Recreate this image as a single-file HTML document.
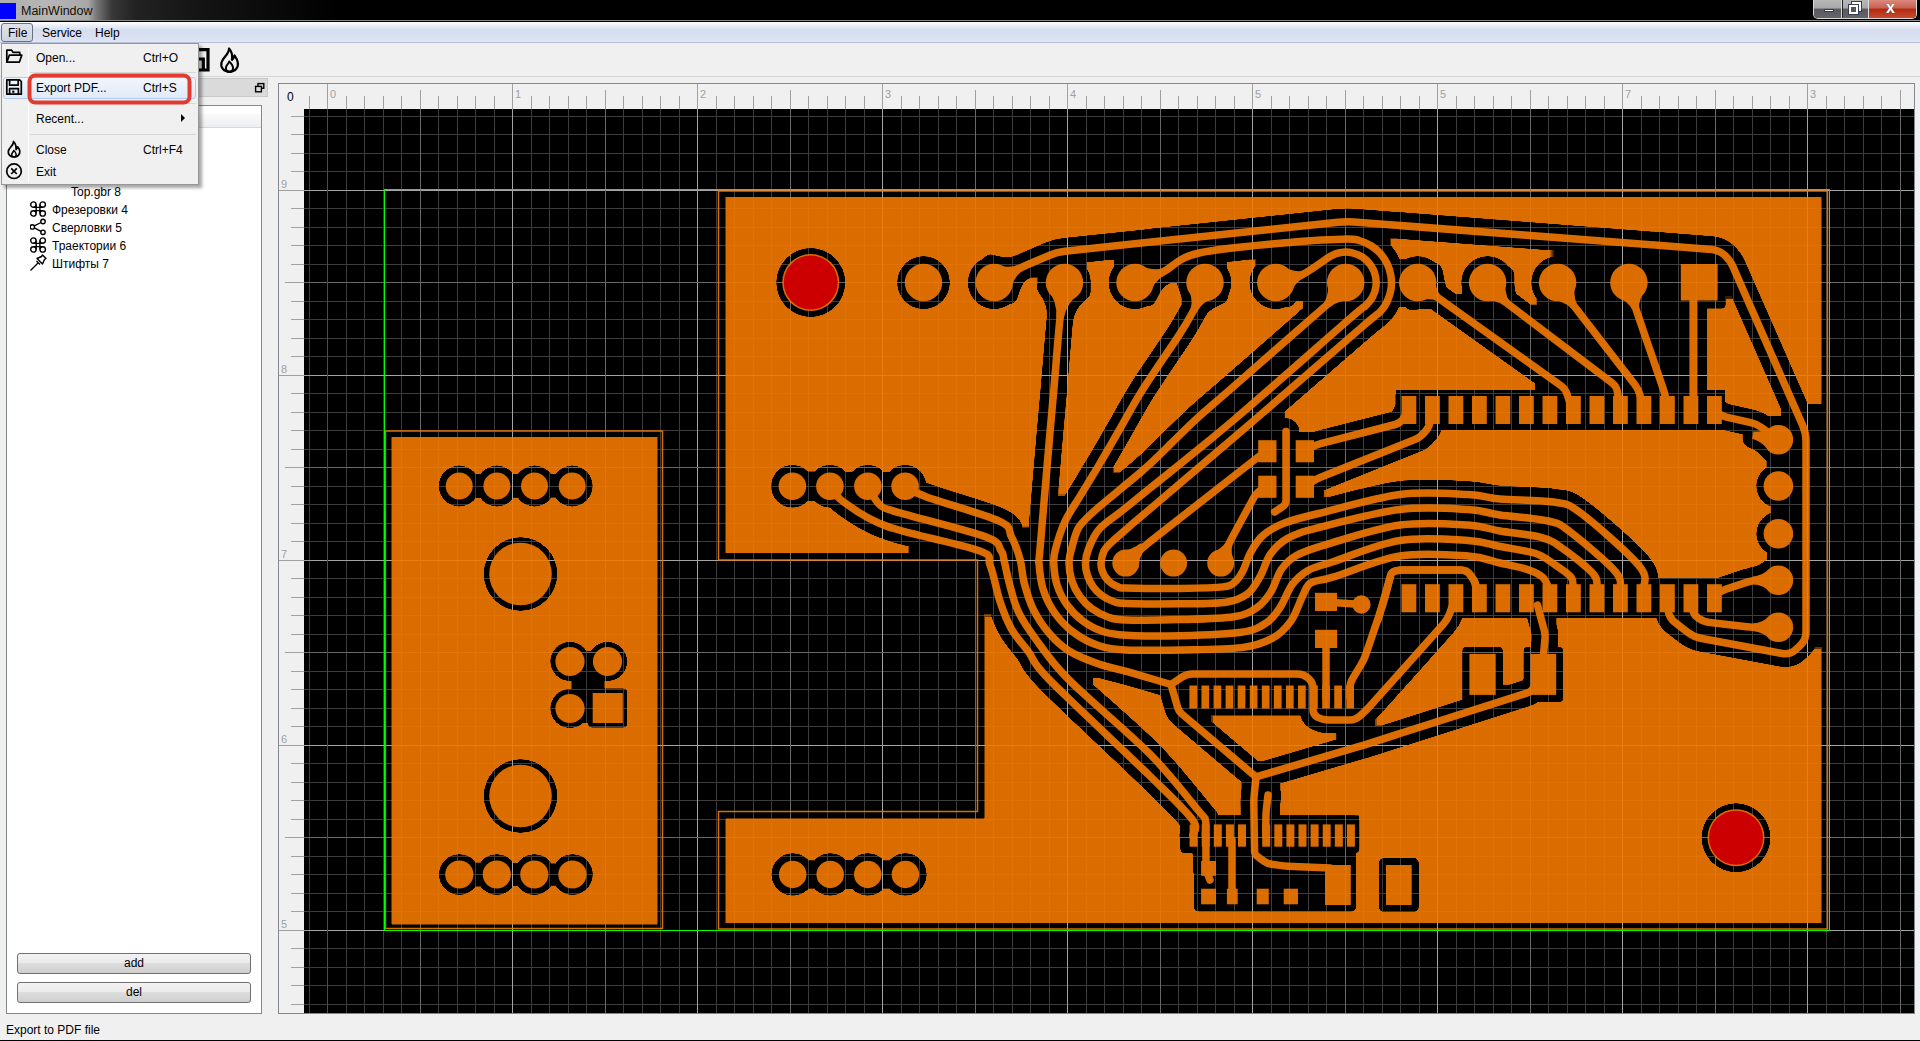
<!DOCTYPE html>
<html><head><meta charset="utf-8"><style>
*{margin:0;padding:0;box-sizing:border-box}
html,body{width:1920px;height:1041px;overflow:hidden;background:#f0f0f0;font-family:"Liberation Sans",sans-serif;font-size:12px;color:#000;position:relative}
.a{position:absolute}
#title{left:0;top:0;width:1920px;height:21px;background:#000;overflow:hidden}
#glow{left:0;top:0;width:360px;height:20px;background:linear-gradient(to right,#aeaeae 0px,#b6b6b6 50px,#a8a8a8 88px,#707070 98px,#383838 112px,#222 135px,#141414 200px,#000 340px)}
#tline{left:0;top:20px;width:1920px;height:2px;background:linear-gradient(#8c8c8c 0px,#8c8c8c 0.7px,#000 0.7px,#000 2px)}
#menubar{left:0;top:22px;width:1920px;height:21px;background:linear-gradient(#ffffff 0px,#eef1f9 3px,#dfe5f4 6px,#d6ddef 8px,#dce2f2 18px,#e2e7f4 20px);border-bottom:1px solid #b9c1d8}
.mi{top:0;height:20px;line-height:20px;font-size:12px}
#toolbar{left:0;top:43px;width:1920px;height:34px;background:#f0f0f0;border-bottom:1px solid #d5d5d5}
#dock{left:0;top:77px;width:270px;height:937px;background:#f0f0f0}
#docktitle{left:1px;top:78px;width:267px;height:19px;background:#dadada;border:1px solid #c8c8c8}
#tree{left:6px;top:105px;width:256px;height:909px;background:#fff;border:1px solid #828790}
#hdr{left:7px;top:114px;width:254px;height:14px;background:linear-gradient(#fafafa,#eceef0);border-bottom:1px solid #d8d8d8}
.ti{height:18px;line-height:18px;font-size:12px;white-space:nowrap}
.btn{left:17px;width:234px;height:21px;border:1px solid #707070;border-radius:3px;background:linear-gradient(#f2f2f2 0%,#ebebeb 45%,#dddddd 50%,#cfcfcf 100%);text-align:center;line-height:19px;font-size:12px}
#status{left:6px;top:1022px;font-size:12px;line-height:16px}
#bottomline{left:0;top:1040px;width:1920px;height:1px;background:#000}
#menu{left:1px;top:43px;width:198px;height:142px;background:#f0f0f0;border:1px solid #979797;box-shadow:3px 3px 3px rgba(0,0,0,0.35)}
.mt{left:34px;font-size:12px;line-height:16px}
.sc{left:141px;font-size:12px;line-height:16px}
</style></head><body>
<div id="title" class="a">
  <div id="glow" class="a"></div>
  <div class="a" style="left:0;top:3px;width:16px;height:16px;background:#0000ff"></div>
  <div class="a" style="left:21px;top:4px;font-size:12.5px;line-height:15px;color:#141008">MainWindow</div>
  <div class="a" style="left:1813px;top:0;width:104px;height:19px;border:1px solid #d8d8d8;border-top:none;border-radius:0 0 5px 5px;background:#222"></div>
  <div class="a" style="left:1814px;top:0;width:28px;height:18px;background:linear-gradient(#b8b8b8 0%,#a8a8a8 45%,#5a5a60 50%,#62646c 100%);border-radius:0 0 0 4px;border-right:1px solid #ddd"></div>
  <div class="a" style="left:1824px;top:9px;width:10px;height:3px;background:#fff;border:1px solid #3a3a50"></div>
  <div class="a" style="left:1843px;top:0;width:26px;height:18px;background:linear-gradient(#b8b8b8 0%,#a8a8a8 45%,#5a5a60 50%,#62646c 100%);border-right:1px solid #ddd"></div>
  <div class="a" style="left:1852px;top:2px;width:9px;height:9px;border:2px solid #fff;outline:1px solid #3a3a50"></div>
  <div class="a" style="left:1849px;top:5px;width:9px;height:9px;border:2px solid #fff;background:#555;outline:1px solid #3a3a50"></div>
  <div class="a" style="left:1869px;top:0;width:47px;height:18px;background:linear-gradient(#dc8a7c 0%,#c86050 45%,#b02a10 50%,#c84a30 100%);border-radius:0 0 4px 0"></div>
  <div class="a" style="left:1886px;top:-1px;font-size:16px;font-weight:bold;color:#fff;line-height:18px;text-shadow:0 0 1px #334">x</div>
</div>
<div id="tline" class="a"></div>
<div id="menubar" class="a">
  <div class="a" style="left:1px;top:1px;width:32px;height:19px;border:1px solid #6a7080;border-radius:3px;background:linear-gradient(#dfe3ec,#ccd3e2)"></div>
  <div class="a mi" style="left:8px;top:1px">File</div>
  <div class="a mi" style="left:42px;top:1px">Service</div>
  <div class="a mi" style="left:95px;top:1px">Help</div>
</div>
<div id="toolbar" class="a">
  <svg class="a" style="left:190px;top:4px" width="22" height="30" viewBox="190 47 22 30"><path d="M190 49.7H208V70H190M190 59H203.3V70" fill="none" stroke="#000" stroke-width="3.2"/></svg>
  <svg class="a" style="left:218px;top:3px" width="24" height="28" viewBox="0 0 24 28"><path d="M11 2.5C11.5 8 5 11 3.5 16.5C2.2 21.5 6 25.8 11.5 25.8C17 25.8 20.8 21.5 19.8 16.5C19.2 13 17.5 11 16.5 9.5C16 11.5 15.2 12.8 14 13.8C14.5 9.5 13.5 5 11 2.5Z" fill="none" stroke="#000" stroke-width="2.2" stroke-linejoin="round"/><path d="M11.5 25.8C8.8 25.8 7.5 23.5 8 21.2C8.5 19 10.5 18 11.2 15.5C13 17.2 15 19.5 15 22C15 24.2 13.5 25.8 11.5 25.8Z" fill="none" stroke="#000" stroke-width="2" stroke-linejoin="round"/></svg>
</div>
<div id="dock" class="a"></div>
<div id="docktitle" class="a"></div>
<svg class="a" style="left:254px;top:82px" width="12" height="12" viewBox="0 0 12 12"><rect x="4" y="1.6" width="5.8" height="4.6" fill="none" stroke="#000" stroke-width="1.4"/><rect x="1.6" y="4.4" width="5.8" height="5.4" fill="#dadada" stroke="#000" stroke-width="1.4"/></svg>
<div id="tree" class="a"></div>
<div id="hdr" class="a"></div>
<div class="a ti" style="left:71px;top:183px">Top.gbr 8</div>
<div class="a ti" style="left:52px;top:201px">Фрезеровки 4</div>
<div class="a ti" style="left:52px;top:219px">Сверловки 5</div>
<div class="a ti" style="left:52px;top:237px">Траектории 6</div>
<div class="a ti" style="left:52px;top:255px">Штифты 7</div>
<svg class="a" style="left:30px;top:200px" width="18" height="74" viewBox="0 0 18 74">
 <g fill="none" stroke="#000" stroke-width="1.4">
  <g transform="translate(0,1)"><circle cx="3.4" cy="3.6" r="2.7"/><circle cx="12.7" cy="3.6" r="2.7"/><circle cx="3.4" cy="12.4" r="2.7"/><circle cx="12.7" cy="12.4" r="2.7"/><path d="M6.2 3.6V12.4M9.9 3.6V12.4M3.4 6.4H12.7M3.4 9.6H12.7"/></g>
  <g transform="translate(0,37)"><circle cx="3.4" cy="3.6" r="2.7"/><circle cx="12.7" cy="3.6" r="2.7"/><circle cx="3.4" cy="12.4" r="2.7"/><circle cx="12.7" cy="12.4" r="2.7"/><path d="M6.2 3.6V12.4M9.9 3.6V12.4M3.4 6.4H12.7M3.4 9.6H12.7"/></g>
  <circle cx="13" cy="21.5" r="2.2"/><circle cx="2.3" cy="26.9" r="2.2"/><circle cx="13" cy="32.3" r="2.2"/><path d="M4.3 25.9L11 22.5M4.3 27.9L11 31.3"/>
  <path d="M0.5 70.5L8 63M7 58.5L11.5 56.5L12.5 55L16 58.5L14.5 59.5L12.5 64L7 58.5ZM6.5 61L10 64.5" stroke-linejoin="round"/>
 </g>
</svg>
<div class="a btn" style="top:953px">add</div>
<div class="a btn" style="top:982px">del</div>
<div id="status" class="a">Export to PDF file</div>
<div id="bottomline" class="a"></div>
<svg width="1920" height="1041" style="position:absolute;left:0;top:0"><rect x="279" y="84" width="1635" height="929" fill="#f0f0f0"/><rect x="278.5" y="83.5" width="1636" height="930" fill="none" stroke="#828790"/><path d="M309.5 96V109M327.5 84V109M346.5 96V109M364.5 96V109M383.5 96V109M401.5 96V109M420.5 90V109M438.5 96V109M457.5 96V109M475.5 96V109M494.5 96V109M512.5 84V109M531.5 96V109M549.5 96V109M568.5 96V109M586.5 96V109M605.5 90V109M623.5 96V109M642.5 96V109M660.5 96V109M679.5 96V109M697.5 84V109M716.5 96V109M734.5 96V109M753.5 96V109M771.5 96V109M790.5 90V109M808.5 96V109M827.5 96V109M845.5 96V109M864.5 96V109M882.5 84V109M901.5 96V109M919.5 96V109M938.5 96V109M956.5 96V109M975.5 90V109M993.5 96V109M1012.5 96V109M1030.5 96V109M1049.5 96V109M1067.5 84V109M1086.5 96V109M1104.5 96V109M1123.5 96V109M1141.5 96V109M1160.5 90V109M1178.5 96V109M1197.5 96V109M1215.5 96V109M1234.5 96V109M1252.5 84V109M1271.5 96V109M1289.5 96V109M1308.5 96V109M1326.5 96V109M1345.5 90V109M1363.5 96V109M1382.5 96V109M1400.5 96V109M1419.5 96V109M1437.5 84V109M1456.5 96V109M1474.5 96V109M1493.5 96V109M1511.5 96V109M1530.5 90V109M1548.5 96V109M1567.5 96V109M1585.5 96V109M1604.5 96V109M1622.5 84V109M1641.5 96V109M1659.5 96V109M1678.5 96V109M1696.5 96V109M1715.5 90V109M1733.5 96V109M1752.5 96V109M1770.5 96V109M1789.5 96V109M1807.5 84V109M1826.5 96V109M1844.5 96V109M1863.5 96V109M1881.5 96V109M1900.5 90V109M291 116.5H304M291 134.5H304M291 153.5H304M291 171.5H304M279 190.5H304M291 208.5H304M291 227.5H304M291 245.5H304M291 264.5H304M285 282.5H304M291 301.5H304M291 319.5H304M291 338.5H304M291 356.5H304M279 375.5H304M291 393.5H304M291 412.5H304M291 430.5H304M291 449.5H304M285 467.5H304M291 486.5H304M291 504.5H304M291 523.5H304M291 541.5H304M279 560.5H304M291 578.5H304M291 597.5H304M291 615.5H304M291 634.5H304M285 652.5H304M291 671.5H304M291 689.5H304M291 708.5H304M291 726.5H304M279 745.5H304M291 763.5H304M291 782.5H304M291 800.5H304M291 819.5H304M285 837.5H304M291 856.5H304M291 874.5H304M291 893.5H304M291 911.5H304M279 930.5H304M291 948.5H304M291 967.5H304M291 985.5H304M291 1004.5H304" stroke="#a0a0a0" stroke-width="1" fill="none" shape-rendering="crispEdges"/><text x="330" y="98" font-size="11" fill="#a0a0a0" font-family='"Liberation Sans", sans-serif'>0</text><text x="515" y="98" font-size="11" fill="#a0a0a0" font-family='"Liberation Sans", sans-serif'>1</text><text x="700" y="98" font-size="11" fill="#a0a0a0" font-family='"Liberation Sans", sans-serif'>2</text><text x="885" y="98" font-size="11" fill="#a0a0a0" font-family='"Liberation Sans", sans-serif'>3</text><text x="1070" y="98" font-size="11" fill="#a0a0a0" font-family='"Liberation Sans", sans-serif'>4</text><text x="1255" y="98" font-size="11" fill="#a0a0a0" font-family='"Liberation Sans", sans-serif'>5</text><text x="1440" y="98" font-size="11" fill="#a0a0a0" font-family='"Liberation Sans", sans-serif'>5</text><text x="1625" y="98" font-size="11" fill="#a0a0a0" font-family='"Liberation Sans", sans-serif'>7</text><text x="1810" y="98" font-size="11" fill="#a0a0a0" font-family='"Liberation Sans", sans-serif'>3</text><text x="281" y="188" font-size="11" fill="#a0a0a0" font-family='"Liberation Sans", sans-serif'>9</text><text x="281" y="373" font-size="11" fill="#a0a0a0" font-family='"Liberation Sans", sans-serif'>8</text><text x="281" y="558" font-size="11" fill="#a0a0a0" font-family='"Liberation Sans", sans-serif'>7</text><text x="281" y="743" font-size="11" fill="#a0a0a0" font-family='"Liberation Sans", sans-serif'>6</text><text x="281" y="928" font-size="11" fill="#a0a0a0" font-family='"Liberation Sans", sans-serif'>5</text><text x="287" y="101" font-size="12" fill="#000" font-family='"Liberation Sans", sans-serif'>0</text><svg x="304" y="109" width="1610" height="904" viewBox="304 109 1610 904"><rect x="304" y="109" width="1610" height="904" fill="#000"/><path d="M309.5 109V1013M346.5 109V1013M364.5 109V1013M383.5 109V1013M401.5 109V1013M438.5 109V1013M457.5 109V1013M475.5 109V1013M494.5 109V1013M531.5 109V1013M549.5 109V1013M568.5 109V1013M586.5 109V1013M623.5 109V1013M642.5 109V1013M660.5 109V1013M679.5 109V1013M716.5 109V1013M734.5 109V1013M753.5 109V1013M771.5 109V1013M808.5 109V1013M827.5 109V1013M845.5 109V1013M864.5 109V1013M901.5 109V1013M919.5 109V1013M938.5 109V1013M956.5 109V1013M993.5 109V1013M1012.5 109V1013M1030.5 109V1013M1049.5 109V1013M1086.5 109V1013M1104.5 109V1013M1123.5 109V1013M1141.5 109V1013M1178.5 109V1013M1197.5 109V1013M1215.5 109V1013M1234.5 109V1013M1271.5 109V1013M1289.5 109V1013M1308.5 109V1013M1326.5 109V1013M1363.5 109V1013M1382.5 109V1013M1400.5 109V1013M1419.5 109V1013M1456.5 109V1013M1474.5 109V1013M1493.5 109V1013M1511.5 109V1013M1548.5 109V1013M1567.5 109V1013M1585.5 109V1013M1604.5 109V1013M1641.5 109V1013M1659.5 109V1013M1678.5 109V1013M1696.5 109V1013M1733.5 109V1013M1752.5 109V1013M1770.5 109V1013M1789.5 109V1013M1826.5 109V1013M1844.5 109V1013M1863.5 109V1013M1881.5 109V1013M304 116.5H1914M304 134.5H1914M304 153.5H1914M304 171.5H1914M304 208.5H1914M304 227.5H1914M304 245.5H1914M304 264.5H1914M304 301.5H1914M304 319.5H1914M304 338.5H1914M304 356.5H1914M304 393.5H1914M304 412.5H1914M304 430.5H1914M304 449.5H1914M304 486.5H1914M304 504.5H1914M304 523.5H1914M304 541.5H1914M304 578.5H1914M304 597.5H1914M304 615.5H1914M304 634.5H1914M304 671.5H1914M304 689.5H1914M304 708.5H1914M304 726.5H1914M304 763.5H1914M304 782.5H1914M304 800.5H1914M304 819.5H1914M304 856.5H1914M304 874.5H1914M304 893.5H1914M304 911.5H1914M304 948.5H1914M304 967.5H1914M304 985.5H1914M304 1004.5H1914" stroke="#3c3c3c" stroke-width="1" fill="none" shape-rendering="crispEdges"/><path d="M327.5 109V1013M512.5 109V1013M697.5 109V1013M882.5 109V1013M1067.5 109V1013M1252.5 109V1013M1437.5 109V1013M1622.5 109V1013M1807.5 109V1013M304 190.5H1914M304 375.5H1914M304 560.5H1914M304 745.5H1914M304 930.5H1914" stroke="#a4a4a4" stroke-width="1" fill="none" shape-rendering="crispEdges"/><path d="M420.5 109V1013M605.5 109V1013M790.5 109V1013M975.5 109V1013M1160.5 109V1013M1345.5 109V1013M1530.5 109V1013M1715.5 109V1013M1900.5 109V1013M304 282.5H1914M304 467.5H1914M304 652.5H1914M304 837.5H1914" stroke="#686868" stroke-width="1" fill="none" shape-rendering="crispEdges"/><defs><filter id="opn" x="304" y="109" width="1610" height="904" filterUnits="userSpaceOnUse"><feMorphology operator="erode" radius="3.0"/><feMorphology operator="dilate" radius="3.0"/><feComponentTransfer><feFuncA type="linear" slope="2.5" intercept="-0.75"/></feComponentTransfer></filter><filter id="opn2" x="304" y="109" width="1610" height="904" filterUnits="userSpaceOnUse"><feMorphology operator="erode" radius="2"/><feMorphology operator="dilate" radius="2"/><feComponentTransfer><feFuncA type="linear" slope="2.5" intercept="-0.75"/></feComponentTransfer></filter><mask id="iso" maskUnits="userSpaceOnUse" x="304" y="109" width="1610" height="904"><rect x="304" y="109" width="1610" height="904" fill="#fff"/><path d="M994.2 282.6L1013.0 271.9Q1020.0 268.0 1027.3 264.8L1049.7 255.2Q1057.0 252.0 1065.0 251.2L1338.0 222.2Q1346.0 221.4 1354.0 222.0L1711.6 249.4Q1719.0 250.0 1724.5 255.0L1724.5 255.0Q1730.0 260.0 1733.0 266.8L1802.8 425.7Q1806.0 433.0 1806.0 441.0L1806.0 632.0Q1806.0 640.0 1800.2 645.5L1795.8 649.5Q1790.0 655.0 1782.1 653.5L1701.9 638.5Q1694.0 637.0 1687.6 632.2L1675.4 622.8Q1669.0 618.0 1668.1 610.0L1667.0 600.0" fill="none" stroke="#000" stroke-width="26.5" stroke-linecap="round" stroke-linejoin="round"/><path d="M1135.0 283.0C1139.7 281.2 1152.3 277.0 1163.0 272.0C1173.7 267.0 1176.2 258.1 1199.0 253.0C1221.8 247.9 1275.4 243.8 1300.0 241.5C1324.6 239.2 1336.6 239.3 1346.5 239.1C1356.3 239.0 1355.0 239.5 1359.1 240.5C1363.1 241.6 1367.2 243.3 1370.7 245.5C1374.3 247.7 1377.7 250.5 1380.5 253.6C1383.2 256.8 1385.7 260.4 1387.4 264.2C1389.2 268.0 1390.5 272.2 1391.0 276.4C1391.6 280.5 1391.6 284.9 1391.0 289.0C1390.4 293.2 1389.1 297.4 1387.3 301.2C1385.6 304.9 1384.6 307.4 1380.3 311.7C1376.1 316.0 1383.0 309.0 1362.0 327.0C1341.0 345.0 1289.8 389.7 1254.5 420.0C1219.2 450.3 1170.7 491.4 1150.0 509.0C1129.3 526.6 1136.8 520.0 1130.3 525.7C1123.8 531.4 1115.1 538.8 1110.7 543.0C1106.3 547.2 1105.6 547.7 1104.0 551.0C1102.4 554.3 1101.3 559.7 1101.0 563.0C1100.7 566.3 1101.4 568.3 1102.2 570.7C1103.0 573.2 1104.3 575.6 1105.8 577.7C1107.3 579.8 1109.2 581.7 1111.3 583.2C1113.4 584.7 1115.8 586.0 1118.3 586.8C1120.7 587.6 1115.7 587.7 1126.0 588.0C1136.3 588.3 1163.8 588.6 1180.0 588.4C1196.2 588.2 1213.8 588.0 1223.0 586.9C1232.2 585.8 1232.0 584.2 1235.3 581.5C1238.6 578.8 1240.4 575.6 1243.0 570.7C1245.6 565.8 1247.4 558.2 1250.7 552.3C1254.0 546.4 1257.4 540.3 1263.0 535.4C1268.6 530.5 1275.3 526.6 1284.5 523.0C1293.7 519.4 1299.2 518.2 1318.4 513.5C1337.7 508.8 1375.1 497.7 1400.0 494.5C1424.9 491.3 1451.3 493.8 1468.0 494.5C1484.7 495.2 1485.7 497.8 1500.0 499.0C1514.3 500.2 1540.3 499.7 1553.8 502.0C1567.2 504.3 1566.3 502.2 1580.7 513.0C1595.1 523.8 1629.6 554.0 1639.9 566.8C1650.2 579.6 1642.1 586.1 1642.5 590.0" fill="none" stroke="#000" stroke-width="26.5" stroke-linecap="round" stroke-linejoin="round"/><path d="M1275.8 282.6C1280.2 281.2 1293.4 278.9 1302.5 274.5C1311.6 270.1 1324.0 259.9 1330.5 256.2C1336.9 252.5 1337.4 253.0 1341.1 252.5C1344.7 251.9 1348.7 252.0 1352.3 252.8C1355.9 253.6 1359.6 255.2 1362.6 257.2C1365.7 259.3 1368.6 262.1 1370.7 265.1C1372.8 268.1 1374.5 271.8 1375.3 275.4C1376.2 278.9 1376.4 282.9 1375.9 286.6C1375.5 290.2 1374.2 294.0 1372.4 297.3C1370.7 300.5 1369.0 302.4 1365.3 306.0C1361.6 309.5 1371.9 299.5 1350.0 318.5C1328.1 337.5 1267.0 391.7 1233.7 420.0C1200.4 448.3 1168.6 473.1 1150.0 488.2C1131.4 503.3 1130.7 503.9 1122.2 510.7C1113.7 517.5 1104.8 522.7 1099.2 529.1C1093.6 535.5 1090.8 543.4 1088.5 549.0C1086.2 554.6 1085.7 558.6 1085.5 563.0C1085.3 567.4 1086.2 571.5 1087.5 575.5C1088.8 579.5 1090.8 583.4 1093.2 586.8C1095.7 590.2 1098.8 593.3 1102.2 595.8C1105.6 598.2 1109.5 600.2 1113.5 601.5C1117.5 602.8 1114.9 603.1 1126.0 603.5C1137.1 603.9 1163.3 604.0 1180.0 603.8C1196.7 603.6 1214.8 603.9 1226.1 602.2C1237.4 600.5 1242.0 598.0 1247.6 593.8C1253.2 589.6 1256.1 583.6 1259.9 576.9C1263.8 570.2 1266.1 560.2 1270.7 553.8C1275.3 547.4 1279.6 542.8 1287.6 538.4C1295.5 534.0 1299.7 532.5 1318.4 527.7C1337.1 522.9 1375.1 512.5 1400.0 509.5C1424.9 506.5 1451.3 508.6 1468.0 509.5C1484.7 510.4 1486.6 513.1 1500.0 515.0C1513.4 516.9 1536.7 518.2 1548.4 521.0C1560.1 523.8 1558.8 523.3 1570.0 531.8C1581.2 540.3 1607.4 562.3 1615.7 572.0C1624.0 581.7 1619.0 587.0 1619.7 590.0" fill="none" stroke="#000" stroke-width="26.5" stroke-linecap="round" stroke-linejoin="round"/><path d="M1327.0 304.8C1310.8 319.0 1251.5 370.8 1229.6 390.0C1207.6 409.2 1208.6 407.7 1195.3 420.0C1182.0 432.3 1162.2 452.7 1150.0 464.0C1137.8 475.3 1131.8 479.4 1122.2 487.6C1112.6 495.8 1099.5 506.3 1092.2 513.0C1084.9 519.7 1081.9 522.0 1078.4 528.0C1075.0 534.0 1073.1 543.2 1071.5 549.0C1069.9 554.8 1069.0 557.7 1069.0 563.0C1069.0 568.3 1070.0 575.0 1071.8 580.6C1073.6 586.2 1076.4 591.8 1079.9 596.5C1083.3 601.3 1087.7 605.7 1092.5 609.1C1097.2 612.6 1102.8 615.4 1108.4 617.2C1114.0 619.0 1114.1 619.6 1126.0 620.0C1137.9 620.4 1162.0 620.1 1180.0 619.6C1198.0 619.1 1221.0 618.8 1233.8 616.8C1246.6 614.8 1250.8 611.7 1256.9 607.6C1263.1 603.5 1266.6 598.6 1270.7 592.2C1274.8 585.8 1277.2 575.4 1281.5 569.2C1285.8 563.1 1289.4 559.4 1296.8 555.3C1304.2 551.2 1308.8 549.6 1326.0 544.6C1343.2 539.6 1376.3 528.3 1400.0 525.0C1423.7 521.7 1451.3 524.0 1468.0 525.0C1484.7 526.0 1488.0 529.0 1500.0 531.0C1512.0 533.0 1530.0 534.4 1540.3 537.2C1550.6 540.0 1553.0 541.7 1561.9 548.0C1570.9 554.3 1588.3 567.8 1594.0 574.8C1599.7 581.8 1595.9 587.5 1596.3 590.0" fill="none" stroke="#000" stroke-width="26.5" stroke-linecap="round" stroke-linejoin="round"/><path d="M1194.4 309.0C1192.0 313.1 1188.7 320.1 1180.0 333.6C1171.3 347.1 1152.5 373.9 1142.4 390.0C1132.3 406.1 1126.5 417.6 1119.3 430.0C1112.1 442.4 1105.8 453.5 1099.2 464.6C1092.6 475.8 1085.4 487.3 1079.6 496.9C1073.8 506.5 1068.6 513.5 1064.6 522.2C1060.6 530.9 1057.3 542.2 1055.5 549.0C1053.7 555.8 1053.4 556.9 1053.7 563.0C1054.0 569.1 1054.9 578.3 1057.2 585.3C1059.5 592.4 1063.1 599.5 1067.5 605.5C1071.9 611.5 1077.5 617.1 1083.5 621.5C1089.5 625.9 1096.6 629.5 1103.7 631.8C1110.7 634.1 1113.3 634.6 1126.0 635.3C1138.7 636.0 1160.8 636.2 1180.0 635.7C1199.2 635.2 1227.2 634.3 1241.5 632.2C1255.8 630.1 1259.7 627.1 1266.1 623.0C1272.5 618.9 1275.7 614.0 1280.0 607.6C1284.3 601.2 1287.6 590.8 1292.2 584.6C1296.8 578.5 1300.7 574.6 1307.6 570.7C1314.5 566.9 1318.3 566.5 1333.7 561.5C1349.1 556.5 1377.6 544.0 1400.0 540.5C1422.4 537.0 1451.3 539.5 1468.0 540.5C1484.7 541.5 1488.8 544.4 1500.0 546.5C1511.2 548.6 1526.0 550.4 1535.0 553.3C1544.0 556.2 1547.8 560.0 1553.8 564.0C1559.8 568.0 1568.2 573.2 1571.3 577.5C1574.4 581.8 1572.4 587.9 1572.6 590.0" fill="none" stroke="#000" stroke-width="26.5" stroke-linecap="round" stroke-linejoin="round"/><path d="M1064.5 283.0C1063.8 288.8 1061.8 300.2 1060.0 318.0C1058.2 335.8 1055.4 371.3 1053.8 390.0C1052.2 408.7 1052.5 403.5 1050.2 430.0C1047.9 456.5 1041.9 526.8 1040.0 549.0C1038.1 571.2 1038.5 556.2 1039.0 563.0C1039.5 569.8 1040.5 581.4 1043.3 589.9C1046.0 598.4 1050.3 606.9 1055.6 614.1C1060.9 621.4 1067.6 628.1 1074.9 633.4C1082.1 638.7 1090.6 643.0 1099.1 645.7C1107.6 648.5 1112.5 649.3 1126.0 650.0C1139.5 650.7 1160.8 650.3 1180.0 649.9C1199.2 649.5 1226.1 649.5 1241.5 647.6C1256.9 645.7 1264.0 642.8 1272.2 638.4C1280.4 634.0 1285.6 628.6 1290.7 621.4C1295.8 614.2 1299.7 601.7 1303.0 595.3C1306.3 588.9 1305.6 586.1 1310.7 583.0C1315.8 579.9 1318.8 581.4 1333.7 576.9C1348.6 572.4 1377.6 559.5 1400.0 556.0C1422.4 552.5 1451.3 554.8 1468.0 556.0C1484.7 557.2 1490.2 560.8 1500.0 563.0C1509.8 565.2 1519.7 567.0 1526.9 569.4C1534.1 571.8 1539.3 574.1 1543.0 577.5C1546.7 580.9 1548.2 587.9 1549.2 590.0" fill="none" stroke="#000" stroke-width="26.5" stroke-linecap="round" stroke-linejoin="round"/><path d="M829.9 486.3C832.2 488.9 834.2 495.3 843.7 502.0C853.2 508.7 864.5 518.3 887.0 526.4C909.5 534.5 961.3 544.2 978.5 550.6C995.7 557.0 986.4 556.5 990.0 565.0C993.6 573.5 996.4 590.8 1000.0 601.5C1003.6 612.2 1006.7 620.6 1011.5 629.1C1016.3 637.6 1022.4 643.7 1028.8 652.2C1035.1 660.7 1029.4 659.4 1049.6 680.0C1069.8 700.6 1126.2 752.8 1150.0 776.1C1173.8 799.4 1185.6 810.2 1192.7 820.0C1199.8 829.8 1192.7 832.5 1192.7 835.0" fill="none" stroke="#000" stroke-width="26.5" stroke-linecap="round" stroke-linejoin="round"/><path d="M867.9 486.3C869.9 489.4 874.8 500.6 880.0 505.0C885.2 509.4 881.4 507.3 899.0 512.6C916.6 517.9 968.5 530.5 985.5 536.8C1002.5 543.1 997.9 546.7 1001.0 550.6C1004.1 554.5 1002.6 554.6 1004.0 560.0C1005.4 565.4 1006.8 574.4 1009.2 583.0C1011.6 591.6 1013.8 602.3 1018.4 611.9C1023.0 621.5 1028.5 629.4 1036.9 640.7C1045.4 652.1 1050.2 661.1 1069.1 680.0C1087.9 698.9 1128.5 732.4 1150.0 754.2C1171.5 776.0 1189.2 799.7 1198.4 810.7C1207.6 821.7 1204.2 816.0 1205.4 820.0C1206.6 824.0 1205.4 832.5 1205.4 835.0" fill="none" stroke="#000" stroke-width="26.5" stroke-linecap="round" stroke-linejoin="round"/><path d="M905.1 486.3C908.7 488.1 911.0 491.2 926.7 497.0C942.4 502.8 985.2 514.6 999.3 521.2C1013.4 527.8 1007.9 530.3 1011.4 536.8C1014.9 543.3 1018.1 552.3 1020.2 560.0C1022.3 567.7 1022.0 574.7 1024.2 583.0C1026.4 591.3 1029.2 601.1 1033.4 609.6C1037.6 618.1 1043.6 626.9 1049.6 633.8C1055.5 640.7 1061.0 646.0 1069.1 651.0C1077.2 656.0 1087.8 660.1 1098.0 663.7C1108.2 667.3 1117.8 668.9 1130.0 672.4C1142.2 675.9 1164.2 682.5 1171.0 684.5" fill="none" stroke="#000" stroke-width="26.5" stroke-linecap="round" stroke-linejoin="round"/><path d="M1171.0 684.5L1181.5 677.4Q1186.5 674.0 1192.5 674.0L1297.6 674.0Q1303.6 674.0 1308.0 678.1L1308.6 678.5Q1313.0 682.6 1313.0 688.6L1313.0 709.5Q1313.0 715.0 1317.9 717.5L1317.9 717.5Q1322.8 720.0 1328.3 720.0L1349.5 720.0Q1355.5 720.0 1359.9 716.0L1362.6 713.5Q1367.0 709.5 1371.0 705.0L1443.7 623.7Q1447.7 619.2 1449.7 613.5L1452.6 605.0" fill="none" stroke="#000" stroke-width="26.5" stroke-linecap="round" stroke-linejoin="round"/><path d="M1171.0 684.5L1177.7 707.6Q1178.8 711.4 1181.9 714.0L1256.0 776.9" fill="none" stroke="#000" stroke-width="26.5" stroke-linecap="round" stroke-linejoin="round"/><path d="M1256.0 776.9L1360.2 746.1Q1364.0 745.0 1367.8 743.8L1526.6 693.1Q1530.4 691.9 1532.9 688.8L1540.0 680.0" fill="none" stroke="#000" stroke-width="26.5" stroke-linecap="round" stroke-linejoin="round"/><path d="M1256.0 776.9L1254.1 796.0Q1253.7 800.0 1253.8 804.0L1254.6 851.7Q1254.6 854.0 1256.3 855.5L1256.3 855.5Q1258.0 857.0 1259.9 858.3L1264.2 861.3Q1267.5 863.6 1271.5 864.2L1279.7 865.4Q1283.7 866.0 1287.7 866.2L1330.0 868.0" fill="none" stroke="#000" stroke-width="26.5" stroke-linecap="round" stroke-linejoin="round"/><path d="M1265.7 835.0L1265.9 817.0Q1266.0 813.0 1266.4 809.0L1268.0 795.0" fill="none" stroke="#000" stroke-width="26.5" stroke-linecap="round" stroke-linejoin="round"/><path d="M1205.8 835.0L1206.0 866.0Q1206.0 870.0 1207.5 873.7L1210.0 880.0" fill="none" stroke="#000" stroke-width="26.5" stroke-linecap="round" stroke-linejoin="round"/><path d="M1232.0 840.0 L1232.0 895.0" fill="none" stroke="#000" stroke-width="26.5" stroke-linecap="round" stroke-linejoin="round"/><path d="M1326.0 697.0 L1326.0 640.0" fill="none" stroke="#000" stroke-width="26.5" stroke-linecap="round" stroke-linejoin="round"/><path d="M1349.8 697.0L1349.8 689.0Q1349.8 683.0 1353.0 677.9L1360.8 665.1Q1364.0 660.0 1365.9 654.3L1382.4 605.7Q1384.3 600.0 1385.8 594.2L1390.7 575.4Q1391.7 571.6 1395.6 570.8L1395.6 570.8Q1399.4 570.0 1403.3 570.0L1460.6 570.0Q1466.6 570.0 1470.2 574.8L1472.6 578.2Q1476.2 583.0 1476.1 589.0L1476.0 598.0" fill="none" stroke="#000" stroke-width="26.5" stroke-linecap="round" stroke-linejoin="round"/><path d="M1326.0 602.0 L1361.4 604.5" fill="none" stroke="#000" stroke-width="26.5" stroke-linecap="round" stroke-linejoin="round"/><path d="M1537.4 605.0L1544.3 630.5Q1545.4 634.4 1545.0 638.4L1543.0 660.0" fill="none" stroke="#000" stroke-width="26.5" stroke-linecap="round" stroke-linejoin="round"/><path d="M1125.8 563.1L1140.2 550.0Q1144.6 546.0 1149.3 542.3L1254.2 460.1Q1258.3 456.9 1262.7 453.9L1267.0 451.0" fill="none" stroke="#000" stroke-width="26.5" stroke-linecap="round" stroke-linejoin="round"/><path d="M1220.7 563.1L1228.3 545.5Q1230.7 540.0 1233.6 534.7L1254.0 497.3Q1256.8 492.3 1261.9 489.6L1267.0 487.0" fill="none" stroke="#000" stroke-width="26.5" stroke-linecap="round" stroke-linejoin="round"/><path d="M1305.0 451.0L1310.0 448.0Q1315.0 445.0 1320.6 443.6L1395.2 424.5Q1401.0 423.0 1403.8 417.7L1408.0 410.0" fill="none" stroke="#000" stroke-width="26.5" stroke-linecap="round" stroke-linejoin="round"/><path d="M1305.0 487.0L1310.2 483.1Q1315.0 479.5 1320.6 477.3L1414.9 439.5Q1420.5 437.3 1424.3 432.7L1426.2 430.4Q1430.0 425.8 1430.4 419.8L1431.0 410.0" fill="none" stroke="#000" stroke-width="26.5" stroke-linecap="round" stroke-linejoin="round"/><path d="M1417.7 282.6L1433.0 294.0Q1437.8 297.6 1442.7 301.1L1560.7 385.5Q1565.6 389.0 1567.3 394.7L1572.0 410.0" fill="none" stroke="#000" stroke-width="26.5" stroke-linecap="round" stroke-linejoin="round"/><path d="M1487.6 282.6L1502.3 298.6Q1506.4 303.0 1511.2 306.6L1611.9 382.8Q1616.7 386.4 1617.5 392.3L1620.0 410.0" fill="none" stroke="#000" stroke-width="26.5" stroke-linecap="round" stroke-linejoin="round"/><path d="M1557.6 282.6L1570.3 300.8Q1573.7 305.7 1577.4 310.4L1634.6 384.3Q1638.3 389.0 1639.9 394.8L1644.0 410.0" fill="none" stroke="#000" stroke-width="26.5" stroke-linecap="round" stroke-linejoin="round"/><path d="M1628.9 282.6L1634.1 302.6Q1635.6 308.4 1637.6 314.1L1663.2 388.8Q1665.2 394.5 1665.9 400.5L1667.0 410.0" fill="none" stroke="#000" stroke-width="26.5" stroke-linecap="round" stroke-linejoin="round"/><path d="M1693.4 283.0 L1693.4 410.0" fill="none" stroke="#000" stroke-width="27.0" stroke-linecap="round" stroke-linejoin="round"/><path d="M1714.0 410.0L1717.8 413.0Q1721.7 416.0 1726.5 417.1L1750.8 422.7Q1756.6 424.0 1761.5 427.5L1778.4 439.8" fill="none" stroke="#000" stroke-width="26.5" stroke-linecap="round" stroke-linejoin="round"/><path d="M1713.0 598.0L1716.8 594.5Q1720.5 591.0 1725.4 589.4L1747.1 582.1Q1752.8 580.2 1758.8 580.2L1778.4 580.2" fill="none" stroke="#000" stroke-width="26.5" stroke-linecap="round" stroke-linejoin="round"/><path d="M1690.0 598.0L1692.4 609.1Q1693.6 615.0 1698.6 618.4L1699.0 618.6Q1704.0 622.0 1710.0 622.6L1746.8 626.7Q1752.8 627.3 1758.8 627.3L1778.4 627.3" fill="none" stroke="#000" stroke-width="26.5" stroke-linecap="round" stroke-linejoin="round"/><path d="M1476.0 598.0L1476.1 589.0Q1476.2 583.0 1472.6 578.2L1470.2 574.8Q1466.6 570.0 1460.6 570.0L1403.3 570.0Q1399.4 570.0 1395.6 570.8L1395.6 570.8Q1391.7 571.6 1390.6 575.4L1378.0 620.0" fill="none" stroke="#000" stroke-width="26.5" stroke-linecap="round" stroke-linejoin="round"/><path d="M1286.0 431.5L1286.0 500.5Q1286.0 504.5 1282.7 506.7L1274.6 512.0" fill="none" stroke="#000" stroke-width="26.5" stroke-linecap="round" stroke-linejoin="round"/><path d="M1008.5 294.8Q1013.6 276.8 1021.8 271.3L1018.2 264.7Q1009.1 269.0 991.1 264.1Z" fill="#000" stroke="#000" stroke-width="19.0" stroke-linejoin="round"/><path d="M1147.2 296.8Q1155.0 279.8 1164.3 275.5L1161.7 268.5Q1151.8 271.4 1134.8 263.9Z" fill="#000" stroke="#000" stroke-width="19.0" stroke-linejoin="round"/><path d="M1046.2 286.7Q1057.6 301.6 1056.3 317.5L1063.7 318.5Q1066.5 302.7 1081.2 291.2Z" fill="#000" stroke="#000" stroke-width="19.0" stroke-linejoin="round"/><path d="M1186.3 282.0Q1193.5 299.2 1190.9 307.6L1197.9 310.4Q1201.8 302.5 1219.0 295.1Z" fill="#000" stroke="#000" stroke-width="19.0" stroke-linejoin="round"/><path d="M1287.1 297.6Q1295.9 281.2 1303.6 278.1L1301.4 270.9Q1293.3 272.6 1276.8 263.9Z" fill="#000" stroke="#000" stroke-width="19.0" stroke-linejoin="round"/><path d="M1328.1 276.2Q1329.6 294.8 1324.1 302.4L1329.9 307.2Q1336.5 300.6 1355.0 298.9Z" fill="#000" stroke="#000" stroke-width="19.0" stroke-linejoin="round"/><path d="M1412.3 300.6Q1430.8 298.0 1435.6 300.6L1440.0 294.6Q1436.2 290.8 1433.4 272.3Z" fill="#000" stroke="#000" stroke-width="19.0" stroke-linejoin="round"/><path d="M1479.0 299.3Q1497.6 300.1 1503.6 305.5L1509.2 300.5Q1504.3 294.0 1504.9 275.4Z" fill="#000" stroke="#000" stroke-width="19.0" stroke-linejoin="round"/><path d="M1546.8 297.9Q1565.2 301.3 1570.6 307.8L1576.8 303.6Q1572.5 296.2 1575.7 277.8Z" fill="#000" stroke="#000" stroke-width="19.0" stroke-linejoin="round"/><path d="M1613.5 293.2Q1629.5 302.8 1632.0 309.3L1639.2 307.5Q1638.2 300.5 1647.6 284.4Z" fill="#000" stroke="#000" stroke-width="19.0" stroke-linejoin="round"/><path d="M1138.1 568.8Q1139.0 556.2 1145.7 548.4L1140.3 543.2Q1132.6 549.9 1120.1 550.9Z" fill="#000" stroke="#000" stroke-width="19.0" stroke-linejoin="round"/><path d="M1234.2 563.9Q1230.4 551.8 1232.3 545.5L1225.5 542.5Q1222.2 548.3 1210.9 553.9Z" fill="#000" stroke="#000" stroke-width="19.0" stroke-linejoin="round"/><path d="M1776.0 425.2Q1764.0 432.5 1753.5 431.3L1752.1 438.7Q1762.3 441.4 1770.9 452.5Z" fill="#000" stroke="#000" stroke-width="19.0" stroke-linejoin="round"/><path d="M1773.3 566.3Q1762.9 575.7 1752.8 576.5L1752.8 584.0Q1762.9 584.7 1773.3 594.1Z" fill="#000" stroke="#000" stroke-width="19.0" stroke-linejoin="round"/><path d="M1773.3 613.4Q1762.9 622.8 1752.8 623.5L1752.8 631.0Q1762.9 631.8 1773.3 641.2Z" fill="#000" stroke="#000" stroke-width="19.0" stroke-linejoin="round"/><circle cx="459.2" cy="486" r="20.4" fill="#000"/><circle cx="496.9" cy="486" r="20.4" fill="#000"/><circle cx="534.5" cy="486" r="20.4" fill="#000"/><circle cx="572.2" cy="486" r="20.4" fill="#000"/><circle cx="459.3" cy="874.5" r="20.3" fill="#000"/><circle cx="496.8" cy="874.5" r="20.3" fill="#000"/><circle cx="534.3" cy="874.5" r="20.3" fill="#000"/><circle cx="572.4" cy="874.5" r="20.3" fill="#000"/><circle cx="570" cy="661.5" r="19.6" fill="#000"/><circle cx="607.5" cy="661.5" r="19.6" fill="#000"/><circle cx="570" cy="708.5" r="19.6" fill="#000"/><circle cx="923.5" cy="282.6" r="26.3" fill="#000"/><circle cx="994.2" cy="282.6" r="26.3" fill="#000"/><circle cx="1064.5" cy="282.6" r="26.3" fill="#000"/><circle cx="1135" cy="282.6" r="26.3" fill="#000"/><circle cx="1205" cy="282.6" r="26.3" fill="#000"/><circle cx="1275.8" cy="282.6" r="26.3" fill="#000"/><circle cx="1345.7" cy="282.6" r="26.3" fill="#000"/><circle cx="1417.7" cy="282.6" r="26.3" fill="#000"/><circle cx="1487.6" cy="282.6" r="26.3" fill="#000"/><circle cx="1557.6" cy="282.6" r="26.3" fill="#000"/><circle cx="1628.9" cy="282.6" r="26.3" fill="#000"/><circle cx="792.4" cy="486.3" r="21.3" fill="#000"/><circle cx="829.9" cy="486.3" r="21.3" fill="#000"/><circle cx="867.9" cy="486.3" r="21.3" fill="#000"/><circle cx="905.1" cy="486.3" r="21.3" fill="#000"/><circle cx="792.7" cy="874.4" r="21.2" fill="#000"/><circle cx="830.2" cy="874.4" r="21.2" fill="#000"/><circle cx="867.8" cy="874.4" r="21.2" fill="#000"/><circle cx="905.4" cy="874.4" r="21.2" fill="#000"/><circle cx="1125.8" cy="563.1" r="21" fill="#000"/><circle cx="1173.6" cy="563.1" r="21" fill="#000"/><circle cx="1220.7" cy="563.1" r="21" fill="#000"/><circle cx="1778.4" cy="439.8" r="22" fill="#000"/><circle cx="1778.4" cy="486" r="22" fill="#000"/><circle cx="1778.4" cy="533.7" r="22" fill="#000"/><circle cx="1778.4" cy="580.2" r="22" fill="#000"/><circle cx="1778.4" cy="627.3" r="22" fill="#000"/><circle cx="810.75" cy="282.5" r="34.4" fill="#000"/><circle cx="1736" cy="837.7" r="34.4" fill="#000"/><circle cx="1361.4" cy="604.5" r="15" fill="#000"/><circle cx="520.5" cy="574" r="36.7" fill="#000"/><circle cx="520.5" cy="796" r="36.7" fill="#000"/><rect x="1379" y="858" width="39.700000000000045" height="54" rx="5" fill="#000"/><rect x="588.2" y="688.5" width="39.09999999999991" height="39.0" rx="4" fill="#000"/><rect x="1672.8" y="256" width="52.799999999999955" height="52.5" rx="4" fill="#000"/><rect x="1250.2" y="432.2" width="34.299999999999955" height="38.10000000000002" rx="4" fill="#000"/><rect x="1250.2" y="467.7" width="34.299999999999955" height="38.10000000000002" rx="4" fill="#000"/><rect x="1287.7" y="432.2" width="34.299999999999955" height="38.10000000000002" rx="4" fill="#000"/><rect x="1287.7" y="467.7" width="34.299999999999955" height="38.10000000000002" rx="4" fill="#000"/><rect x="1309" y="586.8" width="34" height="30.200000000000045" rx="4" fill="#000"/><rect x="1309" y="623.8" width="34.200000000000045" height="30.200000000000045" rx="4" fill="#000"/><rect x="1462.4" y="646.9" width="40.299999999999955" height="55.0" rx="4" fill="#000"/><rect x="1523.6" y="646.9" width="39.600000000000136" height="55.0" rx="4" fill="#000"/><path d="M1783.0 430.0L1797.0 430.0Q1801.0 430.0 1801.0 434.0L1801.0 641.0Q1801.0 645.0 1797.0 645.0L1787.0 645.0Q1783.0 645.0 1783.0 641.0L1783.0 434.0Q1783.0 430.0 1787.0 430.0L1801.0 430.0Z" fill="#000" stroke="#000" stroke-width="1"/><path d="M1808.0 405.0L1818.0 405.0Q1822.0 405.0 1822.0 409.0L1822.0 436.0Q1822.0 440.0 1818.0 440.0L1812.0 440.0Q1808.0 440.0 1808.0 436.0L1808.0 409.0Q1808.0 405.0 1812.0 405.0L1822.0 405.0Z" fill="#000" stroke="#000" stroke-width="1"/><path d="M1560.0 248.0L1586.0 248.0Q1590.0 248.0 1590.0 252.0L1590.0 258.0Q1590.0 262.0 1586.0 262.0L1564.0 262.0Q1560.0 262.0 1560.0 258.0L1560.0 252.0Q1560.0 248.0 1564.0 248.0L1590.0 248.0Z" fill="#000" stroke="#000" stroke-width="1"/><path d="M1576.0 258.0L1678.0 261.8Q1682.0 262.0 1682.0 266.0L1682.0 308.0Q1682.0 312.0 1678.0 312.0L1580.0 312.0Q1576.0 312.0 1576.0 308.0L1576.0 262.0Q1576.0 258.0 1580.0 258.2L1682.0 262.0Z" fill="#000" stroke="#000" stroke-width="1"/><path d="M1372.0 615.0L1428.0 615.0Q1432.0 615.0 1430.0 618.5L1400.0 670.5Q1398.0 674.0 1394.0 674.0L1374.0 674.0Q1370.0 674.0 1370.1 670.0L1371.9 619.0Q1372.0 615.0 1376.0 615.0L1432.0 615.0Z" fill="#000" stroke="#000" stroke-width="1"/><path d="M1722.0 596.0L1751.1 590.7Q1755.0 590.0 1757.7 592.9L1765.3 601.1Q1768.0 604.0 1765.3 606.9L1757.7 615.1Q1755.0 618.0 1751.0 617.5L1726.0 614.5Q1722.0 614.0 1722.0 610.0L1722.0 600.0Q1722.0 596.0 1725.9 595.3L1755.0 590.0Z" fill="#000" stroke="#000" stroke-width="1"/><path d="M1296.0 294.0L1314.5 283.9Q1318.0 282.0 1321.4 284.1L1330.6 289.9Q1334.0 292.0 1331.5 295.1L1318.5 310.9Q1316.0 314.0 1313.2 311.2L1298.8 296.8Q1296.0 294.0 1299.5 292.1L1318.0 282.0Z" fill="#000" stroke="#000" stroke-width="1"/><path d="M572.0 674.0L600.0 674.0Q604.0 674.0 604.0 678.0L604.0 692.0Q604.0 696.0 600.0 696.0L576.0 696.0Q572.0 696.0 572.0 692.0L572.0 678.0Q572.0 674.0 576.0 674.0L604.0 674.0Z" fill="#000" stroke="#000" stroke-width="1"/><path d="M1396.0 390.5L1720.5 390.5Q1724.5 390.5 1724.5 394.5L1724.5 425.5Q1724.5 429.5 1720.5 429.5L1400.0 429.5Q1396.0 429.5 1396.0 425.5L1396.0 394.5Q1396.0 390.5 1400.0 390.5L1724.5 390.5Z" fill="#000" stroke="#000" stroke-width="1"/><path d="M1180.8 816.2L1354.9 816.2Q1358.9 816.2 1358.9 820.2L1358.9 848.8Q1358.9 852.8 1354.9 852.8L1184.8 852.8Q1180.8 852.8 1180.8 848.8L1180.8 820.2Q1180.8 816.2 1184.8 816.2L1358.9 816.2Z" fill="#000" stroke="#000" stroke-width="1"/><path d="M1194.4 852.0L1351.5 852.0Q1355.5 852.0 1355.5 856.0L1355.5 907.0Q1355.5 911.0 1351.5 911.0L1198.4 911.0Q1194.4 911.0 1194.4 907.0L1194.4 856.0Q1194.4 852.0 1198.4 852.0L1355.5 852.0Z" fill="#000" stroke="#000" stroke-width="1"/><path d="M1180.0 679.0L1356.0 679.0Q1360.0 679.0 1360.0 683.0L1360.0 711.0Q1360.0 715.0 1356.0 715.0L1184.0 715.0Q1180.0 715.0 1180.0 711.0L1180.0 683.0Q1180.0 679.0 1184.0 679.0L1360.0 679.0Z" fill="#000" stroke="#000" stroke-width="1"/><path d="M1150.0 668.0L1241.0 662.3Q1245.0 662.0 1248.6 660.3L1278.4 646.7Q1282.0 645.0 1284.5 641.9L1299.5 623.1Q1302.0 620.0 1303.9 616.5L1316.1 593.5Q1318.0 590.0 1321.9 589.1L1336.1 585.9Q1340.0 585.0 1344.0 584.6L1392.0 579.4Q1396.0 579.0 1396.0 583.0L1396.0 608.0Q1396.0 612.0 1392.9 614.5L1383.1 622.5Q1380.0 625.0 1378.9 628.9L1363.1 686.1Q1362.0 690.0 1359.6 693.2L1347.4 708.8Q1345.0 712.0 1341.0 712.0L1324.0 712.0Q1320.0 712.0 1319.0 708.1L1311.0 678.9Q1310.0 675.0 1306.0 674.8L1190.0 668.2Q1186.0 668.0 1182.0 668.0L1154.0 668.0Q1150.0 668.0 1154.0 667.7L1245.0 662.0Z" fill="#000" stroke="#000" stroke-width="1"/><path d="M1212.0 440.0L1251.1 430.9Q1255.0 430.0 1255.3 434.0L1257.7 466.0Q1258.0 470.0 1254.0 470.6L1229.0 474.4Q1225.0 475.0 1223.6 471.3L1213.4 443.7Q1212.0 440.0 1215.9 439.1L1255.0 430.0Z" fill="#000" stroke="#000" stroke-width="1"/><path d="M1396.0 579.0L1721.0 579.0Q1725.0 579.0 1725.0 583.0L1725.0 613.5Q1725.0 617.5 1721.0 617.5L1400.0 617.5Q1396.0 617.5 1396.0 613.5L1396.0 583.0Q1396.0 579.0 1400.0 579.0L1725.0 579.0Z" fill="#000" stroke="#000" stroke-width="1"/><path d="M1437.8 300.0L1502.0 305.6Q1506.0 306.0 1510.0 306.2L1569.7 308.8Q1573.7 309.0 1577.7 309.2L1631.6 311.8Q1635.6 312.0 1639.6 311.5L1689.0 305.5Q1693.0 305.0 1693.0 309.0L1693.0 391.0Q1693.0 395.0 1689.0 395.0L1569.0 395.0Q1565.0 395.0 1561.8 392.6L1441.0 302.4Q1437.8 300.0 1441.8 300.4L1506.0 306.0Z" fill="#000" stroke="#000" stroke-width="1"/><path d="M1112.0 540.0L1157.5 482.1Q1160.0 479.0 1163.9 478.3L1250.1 463.7Q1254.0 463.0 1254.4 467.0L1257.6 496.0Q1258.0 500.0 1257.3 503.9L1250.7 541.1Q1250.0 545.0 1248.7 548.8L1239.3 576.2Q1238.0 580.0 1234.0 580.2L1134.0 585.8Q1130.0 586.0 1126.8 583.5L1106.2 567.5Q1103.0 565.0 1104.4 561.2L1110.6 543.8Q1112.0 540.0 1114.5 536.9L1160.0 479.0Z" fill="#000" stroke="#000" stroke-width="1"/></mask></defs><g opacity="0.9"><g filter="url(#opn2)"><g mask="url(#iso)"><path d="M391.5 437.0 L657.5 437.0 L657.5 924.5 L391.5 924.5Z" fill="#f47a00"/></g></g><g filter="url(#opn)"><g mask="url(#iso)"><path d="M725.5 197.0 L1821.5 197.0 L1821.5 923.0 L725.5 923.0 L725.5 818.5 L984.5 818.5 L984.5 553.0 L725.5 553.0Z" fill="#f47a00"/></g></g><path d="M385.5 431.0 L662.5 431.0 L662.5 928.5 L385.5 928.5Z" fill="none" stroke="#f47a00" stroke-width="1.5"/><path d="M718.5 191.0 L1827.5 191.0 L1827.5 929.0 L718.5 929.0 L718.5 811.5 L977.5 811.5 L977.5 560.0 L718.5 560.0Z" fill="none" stroke="#f47a00" stroke-width="1.5"/><path d="M994.2 282.6L1013.0 271.9Q1020.0 268.0 1027.3 264.8L1049.7 255.2Q1057.0 252.0 1065.0 251.2L1338.0 222.2Q1346.0 221.4 1354.0 222.0L1711.6 249.4Q1719.0 250.0 1724.5 255.0L1724.5 255.0Q1730.0 260.0 1733.0 266.8L1802.8 425.7Q1806.0 433.0 1806.0 441.0L1806.0 632.0Q1806.0 640.0 1800.2 645.5L1795.8 649.5Q1790.0 655.0 1782.1 653.5L1701.9 638.5Q1694.0 637.0 1687.6 632.2L1675.4 622.8Q1669.0 618.0 1668.1 610.0L1667.0 600.0" fill="none" stroke="#f47a00" stroke-width="7.5" stroke-linecap="round" stroke-linejoin="round"/><path d="M1135.0 283.0C1139.7 281.2 1152.3 277.0 1163.0 272.0C1173.7 267.0 1176.2 258.1 1199.0 253.0C1221.8 247.9 1275.4 243.8 1300.0 241.5C1324.6 239.2 1336.6 239.3 1346.5 239.1C1356.3 239.0 1355.0 239.5 1359.1 240.5C1363.1 241.6 1367.2 243.3 1370.7 245.5C1374.3 247.7 1377.7 250.5 1380.5 253.6C1383.2 256.8 1385.7 260.4 1387.4 264.2C1389.2 268.0 1390.5 272.2 1391.0 276.4C1391.6 280.5 1391.6 284.9 1391.0 289.0C1390.4 293.2 1389.1 297.4 1387.3 301.2C1385.6 304.9 1384.6 307.4 1380.3 311.7C1376.1 316.0 1383.0 309.0 1362.0 327.0C1341.0 345.0 1289.8 389.7 1254.5 420.0C1219.2 450.3 1170.7 491.4 1150.0 509.0C1129.3 526.6 1136.8 520.0 1130.3 525.7C1123.8 531.4 1115.1 538.8 1110.7 543.0C1106.3 547.2 1105.6 547.7 1104.0 551.0C1102.4 554.3 1101.3 559.7 1101.0 563.0C1100.7 566.3 1101.4 568.3 1102.2 570.7C1103.0 573.2 1104.3 575.6 1105.8 577.7C1107.3 579.8 1109.2 581.7 1111.3 583.2C1113.4 584.7 1115.8 586.0 1118.3 586.8C1120.7 587.6 1115.7 587.7 1126.0 588.0C1136.3 588.3 1163.8 588.6 1180.0 588.4C1196.2 588.2 1213.8 588.0 1223.0 586.9C1232.2 585.8 1232.0 584.2 1235.3 581.5C1238.6 578.8 1240.4 575.6 1243.0 570.7C1245.6 565.8 1247.4 558.2 1250.7 552.3C1254.0 546.4 1257.4 540.3 1263.0 535.4C1268.6 530.5 1275.3 526.6 1284.5 523.0C1293.7 519.4 1299.2 518.2 1318.4 513.5C1337.7 508.8 1375.1 497.7 1400.0 494.5C1424.9 491.3 1451.3 493.8 1468.0 494.5C1484.7 495.2 1485.7 497.8 1500.0 499.0C1514.3 500.2 1540.3 499.7 1553.8 502.0C1567.2 504.3 1566.3 502.2 1580.7 513.0C1595.1 523.8 1629.6 554.0 1639.9 566.8C1650.2 579.6 1642.1 586.1 1642.5 590.0" fill="none" stroke="#f47a00" stroke-width="7.5" stroke-linecap="round" stroke-linejoin="round"/><path d="M1275.8 282.6C1280.2 281.2 1293.4 278.9 1302.5 274.5C1311.6 270.1 1324.0 259.9 1330.5 256.2C1336.9 252.5 1337.4 253.0 1341.1 252.5C1344.7 251.9 1348.7 252.0 1352.3 252.8C1355.9 253.6 1359.6 255.2 1362.6 257.2C1365.7 259.3 1368.6 262.1 1370.7 265.1C1372.8 268.1 1374.5 271.8 1375.3 275.4C1376.2 278.9 1376.4 282.9 1375.9 286.6C1375.5 290.2 1374.2 294.0 1372.4 297.3C1370.7 300.5 1369.0 302.4 1365.3 306.0C1361.6 309.5 1371.9 299.5 1350.0 318.5C1328.1 337.5 1267.0 391.7 1233.7 420.0C1200.4 448.3 1168.6 473.1 1150.0 488.2C1131.4 503.3 1130.7 503.9 1122.2 510.7C1113.7 517.5 1104.8 522.7 1099.2 529.1C1093.6 535.5 1090.8 543.4 1088.5 549.0C1086.2 554.6 1085.7 558.6 1085.5 563.0C1085.3 567.4 1086.2 571.5 1087.5 575.5C1088.8 579.5 1090.8 583.4 1093.2 586.8C1095.7 590.2 1098.8 593.3 1102.2 595.8C1105.6 598.2 1109.5 600.2 1113.5 601.5C1117.5 602.8 1114.9 603.1 1126.0 603.5C1137.1 603.9 1163.3 604.0 1180.0 603.8C1196.7 603.6 1214.8 603.9 1226.1 602.2C1237.4 600.5 1242.0 598.0 1247.6 593.8C1253.2 589.6 1256.1 583.6 1259.9 576.9C1263.8 570.2 1266.1 560.2 1270.7 553.8C1275.3 547.4 1279.6 542.8 1287.6 538.4C1295.5 534.0 1299.7 532.5 1318.4 527.7C1337.1 522.9 1375.1 512.5 1400.0 509.5C1424.9 506.5 1451.3 508.6 1468.0 509.5C1484.7 510.4 1486.6 513.1 1500.0 515.0C1513.4 516.9 1536.7 518.2 1548.4 521.0C1560.1 523.8 1558.8 523.3 1570.0 531.8C1581.2 540.3 1607.4 562.3 1615.7 572.0C1624.0 581.7 1619.0 587.0 1619.7 590.0" fill="none" stroke="#f47a00" stroke-width="7.5" stroke-linecap="round" stroke-linejoin="round"/><path d="M1327.0 304.8C1310.8 319.0 1251.5 370.8 1229.6 390.0C1207.6 409.2 1208.6 407.7 1195.3 420.0C1182.0 432.3 1162.2 452.7 1150.0 464.0C1137.8 475.3 1131.8 479.4 1122.2 487.6C1112.6 495.8 1099.5 506.3 1092.2 513.0C1084.9 519.7 1081.9 522.0 1078.4 528.0C1075.0 534.0 1073.1 543.2 1071.5 549.0C1069.9 554.8 1069.0 557.7 1069.0 563.0C1069.0 568.3 1070.0 575.0 1071.8 580.6C1073.6 586.2 1076.4 591.8 1079.9 596.5C1083.3 601.3 1087.7 605.7 1092.5 609.1C1097.2 612.6 1102.8 615.4 1108.4 617.2C1114.0 619.0 1114.1 619.6 1126.0 620.0C1137.9 620.4 1162.0 620.1 1180.0 619.6C1198.0 619.1 1221.0 618.8 1233.8 616.8C1246.6 614.8 1250.8 611.7 1256.9 607.6C1263.1 603.5 1266.6 598.6 1270.7 592.2C1274.8 585.8 1277.2 575.4 1281.5 569.2C1285.8 563.1 1289.4 559.4 1296.8 555.3C1304.2 551.2 1308.8 549.6 1326.0 544.6C1343.2 539.6 1376.3 528.3 1400.0 525.0C1423.7 521.7 1451.3 524.0 1468.0 525.0C1484.7 526.0 1488.0 529.0 1500.0 531.0C1512.0 533.0 1530.0 534.4 1540.3 537.2C1550.6 540.0 1553.0 541.7 1561.9 548.0C1570.9 554.3 1588.3 567.8 1594.0 574.8C1599.7 581.8 1595.9 587.5 1596.3 590.0" fill="none" stroke="#f47a00" stroke-width="7.5" stroke-linecap="round" stroke-linejoin="round"/><path d="M1194.4 309.0C1192.0 313.1 1188.7 320.1 1180.0 333.6C1171.3 347.1 1152.5 373.9 1142.4 390.0C1132.3 406.1 1126.5 417.6 1119.3 430.0C1112.1 442.4 1105.8 453.5 1099.2 464.6C1092.6 475.8 1085.4 487.3 1079.6 496.9C1073.8 506.5 1068.6 513.5 1064.6 522.2C1060.6 530.9 1057.3 542.2 1055.5 549.0C1053.7 555.8 1053.4 556.9 1053.7 563.0C1054.0 569.1 1054.9 578.3 1057.2 585.3C1059.5 592.4 1063.1 599.5 1067.5 605.5C1071.9 611.5 1077.5 617.1 1083.5 621.5C1089.5 625.9 1096.6 629.5 1103.7 631.8C1110.7 634.1 1113.3 634.6 1126.0 635.3C1138.7 636.0 1160.8 636.2 1180.0 635.7C1199.2 635.2 1227.2 634.3 1241.5 632.2C1255.8 630.1 1259.7 627.1 1266.1 623.0C1272.5 618.9 1275.7 614.0 1280.0 607.6C1284.3 601.2 1287.6 590.8 1292.2 584.6C1296.8 578.5 1300.7 574.6 1307.6 570.7C1314.5 566.9 1318.3 566.5 1333.7 561.5C1349.1 556.5 1377.6 544.0 1400.0 540.5C1422.4 537.0 1451.3 539.5 1468.0 540.5C1484.7 541.5 1488.8 544.4 1500.0 546.5C1511.2 548.6 1526.0 550.4 1535.0 553.3C1544.0 556.2 1547.8 560.0 1553.8 564.0C1559.8 568.0 1568.2 573.2 1571.3 577.5C1574.4 581.8 1572.4 587.9 1572.6 590.0" fill="none" stroke="#f47a00" stroke-width="7.5" stroke-linecap="round" stroke-linejoin="round"/><path d="M1064.5 283.0C1063.8 288.8 1061.8 300.2 1060.0 318.0C1058.2 335.8 1055.4 371.3 1053.8 390.0C1052.2 408.7 1052.5 403.5 1050.2 430.0C1047.9 456.5 1041.9 526.8 1040.0 549.0C1038.1 571.2 1038.5 556.2 1039.0 563.0C1039.5 569.8 1040.5 581.4 1043.3 589.9C1046.0 598.4 1050.3 606.9 1055.6 614.1C1060.9 621.4 1067.6 628.1 1074.9 633.4C1082.1 638.7 1090.6 643.0 1099.1 645.7C1107.6 648.5 1112.5 649.3 1126.0 650.0C1139.5 650.7 1160.8 650.3 1180.0 649.9C1199.2 649.5 1226.1 649.5 1241.5 647.6C1256.9 645.7 1264.0 642.8 1272.2 638.4C1280.4 634.0 1285.6 628.6 1290.7 621.4C1295.8 614.2 1299.7 601.7 1303.0 595.3C1306.3 588.9 1305.6 586.1 1310.7 583.0C1315.8 579.9 1318.8 581.4 1333.7 576.9C1348.6 572.4 1377.6 559.5 1400.0 556.0C1422.4 552.5 1451.3 554.8 1468.0 556.0C1484.7 557.2 1490.2 560.8 1500.0 563.0C1509.8 565.2 1519.7 567.0 1526.9 569.4C1534.1 571.8 1539.3 574.1 1543.0 577.5C1546.7 580.9 1548.2 587.9 1549.2 590.0" fill="none" stroke="#f47a00" stroke-width="7.5" stroke-linecap="round" stroke-linejoin="round"/><path d="M829.9 486.3C832.2 488.9 834.2 495.3 843.7 502.0C853.2 508.7 864.5 518.3 887.0 526.4C909.5 534.5 961.3 544.2 978.5 550.6C995.7 557.0 986.4 556.5 990.0 565.0C993.6 573.5 996.4 590.8 1000.0 601.5C1003.6 612.2 1006.7 620.6 1011.5 629.1C1016.3 637.6 1022.4 643.7 1028.8 652.2C1035.1 660.7 1029.4 659.4 1049.6 680.0C1069.8 700.6 1126.2 752.8 1150.0 776.1C1173.8 799.4 1185.6 810.2 1192.7 820.0C1199.8 829.8 1192.7 832.5 1192.7 835.0" fill="none" stroke="#f47a00" stroke-width="7.5" stroke-linecap="round" stroke-linejoin="round"/><path d="M867.9 486.3C869.9 489.4 874.8 500.6 880.0 505.0C885.2 509.4 881.4 507.3 899.0 512.6C916.6 517.9 968.5 530.5 985.5 536.8C1002.5 543.1 997.9 546.7 1001.0 550.6C1004.1 554.5 1002.6 554.6 1004.0 560.0C1005.4 565.4 1006.8 574.4 1009.2 583.0C1011.6 591.6 1013.8 602.3 1018.4 611.9C1023.0 621.5 1028.5 629.4 1036.9 640.7C1045.4 652.1 1050.2 661.1 1069.1 680.0C1087.9 698.9 1128.5 732.4 1150.0 754.2C1171.5 776.0 1189.2 799.7 1198.4 810.7C1207.6 821.7 1204.2 816.0 1205.4 820.0C1206.6 824.0 1205.4 832.5 1205.4 835.0" fill="none" stroke="#f47a00" stroke-width="7.5" stroke-linecap="round" stroke-linejoin="round"/><path d="M905.1 486.3C908.7 488.1 911.0 491.2 926.7 497.0C942.4 502.8 985.2 514.6 999.3 521.2C1013.4 527.8 1007.9 530.3 1011.4 536.8C1014.9 543.3 1018.1 552.3 1020.2 560.0C1022.3 567.7 1022.0 574.7 1024.2 583.0C1026.4 591.3 1029.2 601.1 1033.4 609.6C1037.6 618.1 1043.6 626.9 1049.6 633.8C1055.5 640.7 1061.0 646.0 1069.1 651.0C1077.2 656.0 1087.8 660.1 1098.0 663.7C1108.2 667.3 1117.8 668.9 1130.0 672.4C1142.2 675.9 1164.2 682.5 1171.0 684.5" fill="none" stroke="#f47a00" stroke-width="7.5" stroke-linecap="round" stroke-linejoin="round"/><path d="M1171.0 684.5L1181.5 677.4Q1186.5 674.0 1192.5 674.0L1297.6 674.0Q1303.6 674.0 1308.0 678.1L1308.6 678.5Q1313.0 682.6 1313.0 688.6L1313.0 709.5Q1313.0 715.0 1317.9 717.5L1317.9 717.5Q1322.8 720.0 1328.3 720.0L1349.5 720.0Q1355.5 720.0 1359.9 716.0L1362.6 713.5Q1367.0 709.5 1371.0 705.0L1443.7 623.7Q1447.7 619.2 1449.7 613.5L1452.6 605.0" fill="none" stroke="#f47a00" stroke-width="7.5" stroke-linecap="round" stroke-linejoin="round"/><path d="M1171.0 684.5L1177.7 707.6Q1178.8 711.4 1181.9 714.0L1256.0 776.9" fill="none" stroke="#f47a00" stroke-width="7.5" stroke-linecap="round" stroke-linejoin="round"/><path d="M1256.0 776.9L1360.2 746.1Q1364.0 745.0 1367.8 743.8L1526.6 693.1Q1530.4 691.9 1532.9 688.8L1540.0 680.0" fill="none" stroke="#f47a00" stroke-width="7.5" stroke-linecap="round" stroke-linejoin="round"/><path d="M1256.0 776.9L1254.1 796.0Q1253.7 800.0 1253.8 804.0L1254.6 851.7Q1254.6 854.0 1256.3 855.5L1256.3 855.5Q1258.0 857.0 1259.9 858.3L1264.2 861.3Q1267.5 863.6 1271.5 864.2L1279.7 865.4Q1283.7 866.0 1287.7 866.2L1330.0 868.0" fill="none" stroke="#f47a00" stroke-width="7.5" stroke-linecap="round" stroke-linejoin="round"/><path d="M1265.7 835.0L1265.9 817.0Q1266.0 813.0 1266.4 809.0L1268.0 795.0" fill="none" stroke="#f47a00" stroke-width="7.5" stroke-linecap="round" stroke-linejoin="round"/><path d="M1205.8 835.0L1206.0 866.0Q1206.0 870.0 1207.5 873.7L1210.0 880.0" fill="none" stroke="#f47a00" stroke-width="7.5" stroke-linecap="round" stroke-linejoin="round"/><path d="M1232.0 840.0 L1232.0 895.0" fill="none" stroke="#f47a00" stroke-width="7.5" stroke-linecap="round" stroke-linejoin="round"/><path d="M1326.0 697.0 L1326.0 640.0" fill="none" stroke="#f47a00" stroke-width="7.5" stroke-linecap="round" stroke-linejoin="round"/><path d="M1349.8 697.0L1349.8 689.0Q1349.8 683.0 1353.0 677.9L1360.8 665.1Q1364.0 660.0 1365.9 654.3L1382.4 605.7Q1384.3 600.0 1385.8 594.2L1390.7 575.4Q1391.7 571.6 1395.6 570.8L1395.6 570.8Q1399.4 570.0 1403.3 570.0L1460.6 570.0Q1466.6 570.0 1470.2 574.8L1472.6 578.2Q1476.2 583.0 1476.1 589.0L1476.0 598.0" fill="none" stroke="#f47a00" stroke-width="7.5" stroke-linecap="round" stroke-linejoin="round"/><path d="M1326.0 602.0 L1361.4 604.5" fill="none" stroke="#f47a00" stroke-width="7.5" stroke-linecap="round" stroke-linejoin="round"/><path d="M1537.4 605.0L1544.3 630.5Q1545.4 634.4 1545.0 638.4L1543.0 660.0" fill="none" stroke="#f47a00" stroke-width="7.5" stroke-linecap="round" stroke-linejoin="round"/><path d="M1125.8 563.1L1140.2 550.0Q1144.6 546.0 1149.3 542.3L1254.2 460.1Q1258.3 456.9 1262.7 453.9L1267.0 451.0" fill="none" stroke="#f47a00" stroke-width="7.5" stroke-linecap="round" stroke-linejoin="round"/><path d="M1220.7 563.1L1228.3 545.5Q1230.7 540.0 1233.6 534.7L1254.0 497.3Q1256.8 492.3 1261.9 489.6L1267.0 487.0" fill="none" stroke="#f47a00" stroke-width="7.5" stroke-linecap="round" stroke-linejoin="round"/><path d="M1305.0 451.0L1310.0 448.0Q1315.0 445.0 1320.6 443.6L1395.2 424.5Q1401.0 423.0 1403.8 417.7L1408.0 410.0" fill="none" stroke="#f47a00" stroke-width="7.5" stroke-linecap="round" stroke-linejoin="round"/><path d="M1305.0 487.0L1310.2 483.1Q1315.0 479.5 1320.6 477.3L1414.9 439.5Q1420.5 437.3 1424.3 432.7L1426.2 430.4Q1430.0 425.8 1430.4 419.8L1431.0 410.0" fill="none" stroke="#f47a00" stroke-width="7.5" stroke-linecap="round" stroke-linejoin="round"/><path d="M1417.7 282.6L1433.0 294.0Q1437.8 297.6 1442.7 301.1L1560.7 385.5Q1565.6 389.0 1567.3 394.7L1572.0 410.0" fill="none" stroke="#f47a00" stroke-width="7.5" stroke-linecap="round" stroke-linejoin="round"/><path d="M1487.6 282.6L1502.3 298.6Q1506.4 303.0 1511.2 306.6L1611.9 382.8Q1616.7 386.4 1617.5 392.3L1620.0 410.0" fill="none" stroke="#f47a00" stroke-width="7.5" stroke-linecap="round" stroke-linejoin="round"/><path d="M1557.6 282.6L1570.3 300.8Q1573.7 305.7 1577.4 310.4L1634.6 384.3Q1638.3 389.0 1639.9 394.8L1644.0 410.0" fill="none" stroke="#f47a00" stroke-width="7.5" stroke-linecap="round" stroke-linejoin="round"/><path d="M1628.9 282.6L1634.1 302.6Q1635.6 308.4 1637.6 314.1L1663.2 388.8Q1665.2 394.5 1665.9 400.5L1667.0 410.0" fill="none" stroke="#f47a00" stroke-width="7.5" stroke-linecap="round" stroke-linejoin="round"/><path d="M1693.4 283.0 L1693.4 410.0" fill="none" stroke="#f47a00" stroke-width="8" stroke-linecap="round" stroke-linejoin="round"/><path d="M1714.0 410.0L1717.8 413.0Q1721.7 416.0 1726.5 417.1L1750.8 422.7Q1756.6 424.0 1761.5 427.5L1778.4 439.8" fill="none" stroke="#f47a00" stroke-width="7.5" stroke-linecap="round" stroke-linejoin="round"/><path d="M1713.0 598.0L1716.8 594.5Q1720.5 591.0 1725.4 589.4L1747.1 582.1Q1752.8 580.2 1758.8 580.2L1778.4 580.2" fill="none" stroke="#f47a00" stroke-width="7.5" stroke-linecap="round" stroke-linejoin="round"/><path d="M1690.0 598.0L1692.4 609.1Q1693.6 615.0 1698.6 618.4L1699.0 618.6Q1704.0 622.0 1710.0 622.6L1746.8 626.7Q1752.8 627.3 1758.8 627.3L1778.4 627.3" fill="none" stroke="#f47a00" stroke-width="7.5" stroke-linecap="round" stroke-linejoin="round"/><path d="M1476.0 598.0L1476.1 589.0Q1476.2 583.0 1472.6 578.2L1470.2 574.8Q1466.6 570.0 1460.6 570.0L1403.3 570.0Q1399.4 570.0 1395.6 570.8L1395.6 570.8Q1391.7 571.6 1390.6 575.4L1378.0 620.0" fill="none" stroke="#f47a00" stroke-width="7.5" stroke-linecap="round" stroke-linejoin="round"/><path d="M1286.0 431.5L1286.0 500.5Q1286.0 504.5 1282.7 506.7L1274.6 512.0" fill="none" stroke="#f47a00" stroke-width="7.5" stroke-linecap="round" stroke-linejoin="round"/><path d="M1008.5 294.8Q1013.6 276.8 1021.8 271.3L1018.2 264.7Q1009.1 269.0 991.1 264.1Z" fill="#f47a00"/><path d="M1147.2 296.8Q1155.0 279.8 1164.3 275.5L1161.7 268.5Q1151.8 271.4 1134.8 263.9Z" fill="#f47a00"/><path d="M1046.2 286.7Q1057.6 301.6 1056.3 317.5L1063.7 318.5Q1066.5 302.7 1081.2 291.2Z" fill="#f47a00"/><path d="M1186.3 282.0Q1193.5 299.2 1190.9 307.6L1197.9 310.4Q1201.8 302.5 1219.0 295.1Z" fill="#f47a00"/><path d="M1287.1 297.6Q1295.9 281.2 1303.6 278.1L1301.4 270.9Q1293.3 272.6 1276.8 263.9Z" fill="#f47a00"/><path d="M1328.1 276.2Q1329.6 294.8 1324.1 302.4L1329.9 307.2Q1336.5 300.6 1355.0 298.9Z" fill="#f47a00"/><path d="M1412.3 300.6Q1430.8 298.0 1435.6 300.6L1440.0 294.6Q1436.2 290.8 1433.4 272.3Z" fill="#f47a00"/><path d="M1479.0 299.3Q1497.6 300.1 1503.6 305.5L1509.2 300.5Q1504.3 294.0 1504.9 275.4Z" fill="#f47a00"/><path d="M1546.8 297.9Q1565.2 301.3 1570.6 307.8L1576.8 303.6Q1572.5 296.2 1575.7 277.8Z" fill="#f47a00"/><path d="M1613.5 293.2Q1629.5 302.8 1632.0 309.3L1639.2 307.5Q1638.2 300.5 1647.6 284.4Z" fill="#f47a00"/><path d="M1138.1 568.8Q1139.0 556.2 1145.7 548.4L1140.3 543.2Q1132.6 549.9 1120.1 550.9Z" fill="#f47a00"/><path d="M1234.2 563.9Q1230.4 551.8 1232.3 545.5L1225.5 542.5Q1222.2 548.3 1210.9 553.9Z" fill="#f47a00"/><path d="M1776.0 425.2Q1764.0 432.5 1753.5 431.3L1752.1 438.7Q1762.3 441.4 1770.9 452.5Z" fill="#f47a00"/><path d="M1773.3 566.3Q1762.9 575.7 1752.8 576.5L1752.8 584.0Q1762.9 584.7 1773.3 594.1Z" fill="#f47a00"/><path d="M1773.3 613.4Q1762.9 622.8 1752.8 623.5L1752.8 631.0Q1762.9 631.8 1773.3 641.2Z" fill="#f47a00"/><circle cx="459.2" cy="486" r="13.5" fill="#f47a00"/><circle cx="496.9" cy="486" r="13.5" fill="#f47a00"/><circle cx="534.5" cy="486" r="13.5" fill="#f47a00"/><circle cx="572.2" cy="486" r="13.5" fill="#f47a00"/><circle cx="459.3" cy="874.5" r="14.1" fill="#f47a00"/><circle cx="496.8" cy="874.5" r="14.1" fill="#f47a00"/><circle cx="534.3" cy="874.5" r="14.1" fill="#f47a00"/><circle cx="572.4" cy="874.5" r="14.1" fill="#f47a00"/><circle cx="570" cy="661.5" r="14.6" fill="#f47a00"/><circle cx="607.5" cy="661.5" r="14.6" fill="#f47a00"/><circle cx="570" cy="708.5" r="14.6" fill="#f47a00"/><circle cx="923.5" cy="282.6" r="18.75" fill="#f47a00"/><circle cx="994.2" cy="282.6" r="18.75" fill="#f47a00"/><circle cx="1064.5" cy="282.6" r="18.75" fill="#f47a00"/><circle cx="1135" cy="282.6" r="18.75" fill="#f47a00"/><circle cx="1205" cy="282.6" r="18.75" fill="#f47a00"/><circle cx="1275.8" cy="282.6" r="18.75" fill="#f47a00"/><circle cx="1345.7" cy="282.6" r="18.75" fill="#f47a00"/><circle cx="1417.7" cy="282.6" r="18.75" fill="#f47a00"/><circle cx="1487.6" cy="282.6" r="18.75" fill="#f47a00"/><circle cx="1557.6" cy="282.6" r="18.75" fill="#f47a00"/><circle cx="1628.9" cy="282.6" r="18.75" fill="#f47a00"/><circle cx="792.4" cy="486.3" r="13.8" fill="#f47a00"/><circle cx="829.9" cy="486.3" r="13.8" fill="#f47a00"/><circle cx="867.9" cy="486.3" r="13.8" fill="#f47a00"/><circle cx="905.1" cy="486.3" r="13.8" fill="#f47a00"/><circle cx="792.7" cy="874.4" r="13.75" fill="#f47a00"/><circle cx="830.2" cy="874.4" r="13.75" fill="#f47a00"/><circle cx="867.8" cy="874.4" r="13.75" fill="#f47a00"/><circle cx="905.4" cy="874.4" r="13.75" fill="#f47a00"/><circle cx="1125.8" cy="563.1" r="13.5" fill="#f47a00"/><circle cx="1173.6" cy="563.1" r="13.5" fill="#f47a00"/><circle cx="1220.7" cy="563.1" r="13.5" fill="#f47a00"/><circle cx="1778.4" cy="439.8" r="14.8" fill="#f47a00"/><circle cx="1778.4" cy="486" r="14.8" fill="#f47a00"/><circle cx="1778.4" cy="533.7" r="14.8" fill="#f47a00"/><circle cx="1778.4" cy="580.2" r="14.8" fill="#f47a00"/><circle cx="1778.4" cy="627.3" r="14.8" fill="#f47a00"/><circle cx="810.75" cy="282.5" r="28.5" fill="#f47a00"/><circle cx="1736" cy="837.7" r="28.5" fill="#f47a00"/><circle cx="1361.4" cy="604.5" r="9.2" fill="#f47a00"/><circle cx="520.5" cy="574" r="31.3" fill="#f47a00"/><circle cx="520.5" cy="796" r="31.3" fill="#f47a00"/><rect x="592.7" y="693" width="30.09999999999991" height="30" fill="#f47a00"/><rect x="1680.8" y="264" width="36.799999999999955" height="36.5" fill="#f47a00"/><rect x="1401.5" y="396" width="14.799999999999955" height="28" fill="#f47a00"/><rect x="1401.5" y="584.2" width="14.799999999999955" height="28.09999999999991" fill="#f47a00"/><rect x="1425.0" y="396" width="14.799999999999955" height="28" fill="#f47a00"/><rect x="1425.0" y="584.2" width="14.799999999999955" height="28.09999999999991" fill="#f47a00"/><rect x="1448.5" y="396" width="14.799999999999955" height="28" fill="#f47a00"/><rect x="1448.5" y="584.2" width="14.799999999999955" height="28.09999999999991" fill="#f47a00"/><rect x="1472.0" y="396" width="14.799999999999955" height="28" fill="#f47a00"/><rect x="1472.0" y="584.2" width="14.799999999999955" height="28.09999999999991" fill="#f47a00"/><rect x="1495.5" y="396" width="14.799999999999955" height="28" fill="#f47a00"/><rect x="1495.5" y="584.2" width="14.799999999999955" height="28.09999999999991" fill="#f47a00"/><rect x="1519.0" y="396" width="14.799999999999955" height="28" fill="#f47a00"/><rect x="1519.0" y="584.2" width="14.799999999999955" height="28.09999999999991" fill="#f47a00"/><rect x="1542.5" y="396" width="14.799999999999955" height="28" fill="#f47a00"/><rect x="1542.5" y="584.2" width="14.799999999999955" height="28.09999999999991" fill="#f47a00"/><rect x="1566.0" y="396" width="14.799999999999955" height="28" fill="#f47a00"/><rect x="1566.0" y="584.2" width="14.799999999999955" height="28.09999999999991" fill="#f47a00"/><rect x="1589.5" y="396" width="14.799999999999955" height="28" fill="#f47a00"/><rect x="1589.5" y="584.2" width="14.799999999999955" height="28.09999999999991" fill="#f47a00"/><rect x="1613.0" y="396" width="14.799999999999955" height="28" fill="#f47a00"/><rect x="1613.0" y="584.2" width="14.799999999999955" height="28.09999999999991" fill="#f47a00"/><rect x="1636.5" y="396" width="14.799999999999955" height="28" fill="#f47a00"/><rect x="1636.5" y="584.2" width="14.799999999999955" height="28.09999999999991" fill="#f47a00"/><rect x="1660.0" y="396" width="14.799999999999955" height="28" fill="#f47a00"/><rect x="1660.0" y="584.2" width="14.799999999999955" height="28.09999999999991" fill="#f47a00"/><rect x="1683.5" y="396" width="14.799999999999955" height="28" fill="#f47a00"/><rect x="1683.5" y="584.2" width="14.799999999999955" height="28.09999999999991" fill="#f47a00"/><rect x="1707.0" y="396" width="14.799999999999955" height="28" fill="#f47a00"/><rect x="1707.0" y="584.2" width="14.799999999999955" height="28.09999999999991" fill="#f47a00"/><rect x="1258.2" y="440.2" width="18.299999999999955" height="22.100000000000023" fill="#f47a00"/><rect x="1258.2" y="475.7" width="18.299999999999955" height="22.100000000000023" fill="#f47a00"/><rect x="1295.7" y="440.2" width="18.299999999999955" height="22.100000000000023" fill="#f47a00"/><rect x="1295.7" y="475.7" width="18.299999999999955" height="22.100000000000023" fill="#f47a00"/><rect x="1189.4" y="685.5" width="7.7000000000000455" height="23.0" fill="#f47a00"/><rect x="1189.6" y="824.4" width="8.0" height="22.300000000000068" fill="#f47a00"/><rect x="1201.47" y="685.5" width="7.7000000000000455" height="23.0" fill="#f47a00"/><rect x="1201.6999999999998" y="824.4" width="8.0" height="22.300000000000068" fill="#f47a00"/><rect x="1213.5400000000002" y="685.5" width="7.7000000000000455" height="23.0" fill="#f47a00"/><rect x="1213.8" y="824.4" width="8.0" height="22.300000000000068" fill="#f47a00"/><rect x="1225.6100000000001" y="685.5" width="7.7000000000000455" height="23.0" fill="#f47a00"/><rect x="1225.8999999999999" y="824.4" width="8.0" height="22.300000000000068" fill="#f47a00"/><rect x="1237.68" y="685.5" width="7.7000000000000455" height="23.0" fill="#f47a00"/><rect x="1238.0" y="824.4" width="8.0" height="22.300000000000068" fill="#f47a00"/><rect x="1249.75" y="685.5" width="7.7000000000000455" height="23.0" fill="#f47a00"/><rect x="1261.8200000000002" y="685.5" width="7.7000000000000455" height="23.0" fill="#f47a00"/><rect x="1262.1999999999998" y="824.4" width="8.0" height="22.300000000000068" fill="#f47a00"/><rect x="1273.89" y="685.5" width="7.7000000000000455" height="23.0" fill="#f47a00"/><rect x="1274.3" y="824.4" width="8.0" height="22.300000000000068" fill="#f47a00"/><rect x="1285.96" y="685.5" width="7.7000000000000455" height="23.0" fill="#f47a00"/><rect x="1286.3999999999999" y="824.4" width="8.0" height="22.300000000000068" fill="#f47a00"/><rect x="1298.0300000000002" y="685.5" width="7.7000000000000455" height="23.0" fill="#f47a00"/><rect x="1298.5" y="824.4" width="8.0" height="22.300000000000068" fill="#f47a00"/><rect x="1310.1000000000001" y="685.5" width="7.7000000000000455" height="23.0" fill="#f47a00"/><rect x="1310.6" y="824.4" width="8.0" height="22.300000000000068" fill="#f47a00"/><rect x="1322.17" y="685.5" width="7.7000000000000455" height="23.0" fill="#f47a00"/><rect x="1322.6999999999998" y="824.4" width="8.0" height="22.300000000000068" fill="#f47a00"/><rect x="1334.24" y="685.5" width="7.7000000000000455" height="23.0" fill="#f47a00"/><rect x="1334.8" y="824.4" width="8.0" height="22.300000000000068" fill="#f47a00"/><rect x="1346.3100000000002" y="685.5" width="7.7000000000000455" height="23.0" fill="#f47a00"/><rect x="1346.8999999999999" y="824.4" width="8.0" height="22.300000000000068" fill="#f47a00"/><rect x="1315" y="592.8" width="22" height="18.200000000000045" fill="#f47a00"/><rect x="1315" y="629.8" width="22.200000000000045" height="18.200000000000045" fill="#f47a00"/><rect x="1469.4" y="653.9" width="26.299999999999955" height="41.0" fill="#f47a00"/><rect x="1530.6" y="653.9" width="25.600000000000136" height="41.0" fill="#f47a00"/><rect x="1201.1" y="888.7" width="14.900000000000091" height="15.599999999999909" fill="#f47a00"/><rect x="1226.9" y="888.7" width="10.799999999999955" height="15.599999999999909" fill="#f47a00"/><rect x="1256.7" y="888.7" width="12.099999999999909" height="15.599999999999909" fill="#f47a00"/><rect x="1283.7" y="888.7" width="14.299999999999955" height="15.599999999999909" fill="#f47a00"/><rect x="1325" y="865" width="25.799999999999955" height="40" fill="#f47a00"/><rect x="1201.1" y="861" width="14.900000000000091" height="14.799999999999955" fill="#f47a00"/><rect x="1386" y="865" width="25.700000000000045" height="40" fill="#f47a00"/></g><circle cx="810.75" cy="282.5" r="27" fill="#cc0000"/><circle cx="1736" cy="837.7" r="27" fill="#cc0000"/><rect x="384.5" y="189.5" width="1445" height="741" fill="none" stroke="#00ff00" stroke-width="1"/><path d="M327.5 109V1013" stroke="#ff0000" stroke-width="1"/></svg></svg>
<div id="menu" class="a">
  <div class="a" style="left:26px;top:4px;width:1px;height:134px;background:#e2e3e3;border-right:1px solid #fff"></div>
  <div class="a" style="left:28px;top:28px;width:166px;height:1px;background:#d7d7d7"></div>
  <div class="a" style="left:28px;top:59px;width:166px;height:1px;background:#d7d7d7"></div>
  <div class="a" style="left:28px;top:90px;width:166px;height:1px;background:#d7d7d7"></div>
  <div class="a" style="left:1px;top:33px;width:193px;height:22px;border:1px solid #aeccf0;border-radius:3px;background:linear-gradient(#f2f6fc,#e1eaf8)"></div>
  <div class="a mt" style="top:6px">Open...</div><div class="a sc" style="top:6px">Ctrl+O</div>
  <div class="a mt" style="top:36px">Export PDF...</div><div class="a sc" style="top:36px">Ctrl+S</div>
  <div class="a mt" style="top:67px">Recent...</div>
  <div class="a" style="left:179px;top:70px;width:0;height:0;border-left:4px solid #000;border-top:4px solid transparent;border-bottom:4px solid transparent"></div>
  <div class="a mt" style="top:98px">Close</div><div class="a sc" style="top:98px">Ctrl+F4</div>
  <div class="a mt" style="top:120px">Exit</div>
  <svg class="a" style="left:-2px;top:-44px" width="30" height="190" viewBox="0 0 30 190">
   <g fill="none" stroke="#000" stroke-width="1.7" stroke-linejoin="round">
    <path d="M6.8 62.2V50.2H11.6L13.2 52.4H19.8V55.2"/><path d="M6.8 62.2L9.3 55.2H21.8L19.3 62.2Z"/>
    <path d="M6.8 79.8H19.6L21.3 81.5V94.2H6.8Z"/><path d="M9.6 80V85.2H18.2V80"/><path d="M9.6 94.2V88.6H18.4V94.2"/><rect x="12.2" y="90.6" width="2.2" height="2.2" fill="#000" stroke="none"/>
    <path d="M13.5 141.5C14 145 9 147.5 8.3 151C7.8 154.5 10.5 157 14 157C17.5 157 20.2 154.5 19.8 151.2C19.5 149 18.3 147.8 17.6 146.8C17.3 148 16.8 148.8 16 149.5C16.3 146.5 15.5 143.5 13.5 141.5Z"/><path d="M14 157C12.3 157 11.5 155.5 11.8 154.2C12.1 152.8 13.3 152 13.8 150.5C15 151.6 16.2 153 16.2 154.5C16.2 156 15.2 157 14 157Z" stroke-width="1.5"/>
    <circle cx="14" cy="171.2" r="7.3"/><path d="M11.2 168.4L16.8 174M16.8 168.4L11.2 174"/>
   </g>
  </svg>
</div>
<svg class="a" style="left:0;top:0" width="220" height="120"><rect x="29.5" y="75.5" width="160" height="27" rx="6" ry="6" fill="none" stroke="#e23a2e" stroke-width="4"/></svg>
</body></html>
